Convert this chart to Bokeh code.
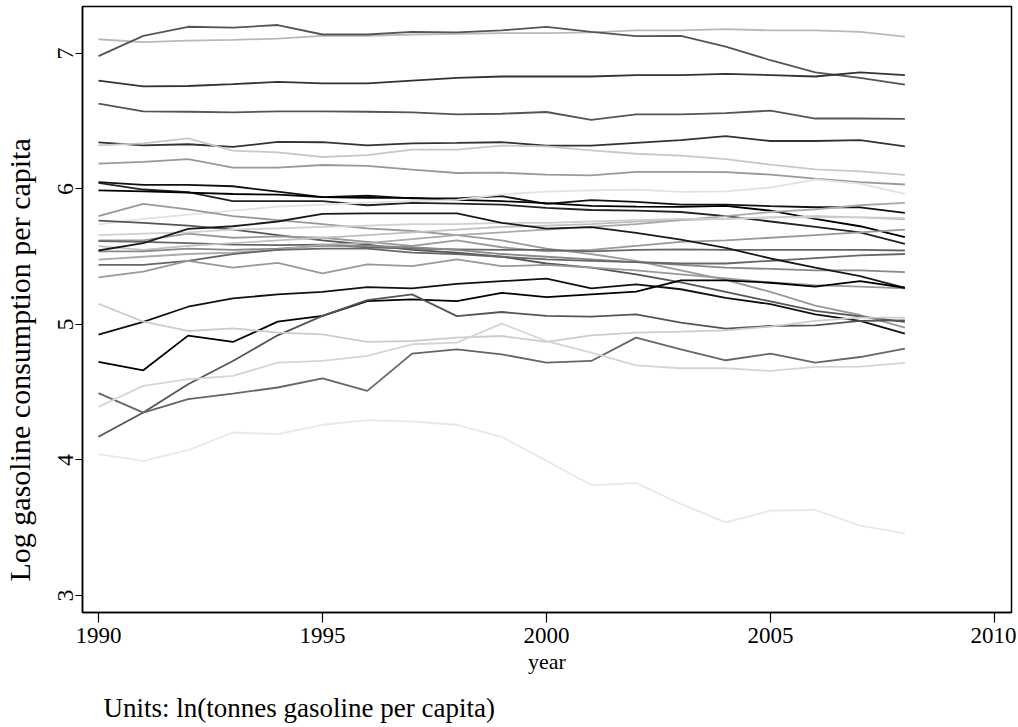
import math
from bokeh.plotting import figure
from bokeh.models import FixedTicker, Range1d
from bokeh.layouts import row, column
from bokeh.core.properties import value
from bokeh.embed import file_html
from bokeh.resources import INLINE

years = list(range(1990, 2009))

s01 = [7.105, 7.083, 7.095, 7.10, 7.11, 7.13, 7.13, 7.14, 7.145, 7.15, 7.15, 7.155, 7.17, 7.17, 7.18, 7.17, 7.17, 7.16, 7.125]
s02 = [6.98, 7.13, 7.197, 7.19, 7.21, 7.14, 7.14, 7.16, 7.155, 7.17, 7.197, 7.16, 7.128, 7.13, 7.05, 6.95, 6.86, 6.82, 6.77]
s03 = [6.80, 6.757, 6.76, 6.774, 6.79, 6.78, 6.78, 6.80, 6.82, 6.83, 6.83, 6.83, 6.84, 6.84, 6.85, 6.84, 6.83, 6.86, 6.84]
s04 = [6.63, 6.573, 6.57, 6.566, 6.573, 6.573, 6.57, 6.566, 6.55, 6.555, 6.568, 6.51, 6.55, 6.55, 6.56, 6.578, 6.52, 6.52, 6.518]
s05 = [6.344, 6.322, 6.33, 6.31, 6.347, 6.345, 6.322, 6.337, 6.34, 6.345, 6.32, 6.32, 6.34, 6.36, 6.39, 6.354, 6.354, 6.36, 6.315]
s06 = [6.322, 6.337, 6.374, 6.283, 6.27, 6.236, 6.25, 6.29, 6.29, 6.32, 6.315, 6.285, 6.26, 6.246, 6.22, 6.18, 6.145, 6.13, 6.104]
s07 = [6.187, 6.20, 6.22, 6.158, 6.158, 6.177, 6.17, 6.143, 6.118, 6.12, 6.106, 6.10, 6.126, 6.126, 6.124, 6.106, 6.077, 6.05, 6.033]
s08 = [6.05, 6.03, 6.03, 6.02, 5.98, 5.94, 5.95, 5.93, 5.93, 5.947, 5.89, 5.917, 5.905, 5.885, 5.885, 5.873, 5.865, 5.865, 5.824]
s09 = [6.045, 5.996, 5.976, 5.91, 5.91, 5.91, 5.88, 5.897, 5.892, 5.885, 5.86, 5.845, 5.84, 5.83, 5.80, 5.76, 5.72, 5.68, 5.595]
s10 = [5.99, 5.983, 5.973, 5.963, 5.958, 5.94, 5.934, 5.934, 5.92, 5.91, 5.895, 5.875, 5.87, 5.868, 5.875, 5.84, 5.78, 5.725, 5.645]
s11 = [5.738, 5.78, 5.81, 5.84, 5.87, 5.885, 5.90, 5.91, 5.92, 5.96, 5.98, 5.99, 5.995, 5.978, 5.983, 6.01, 6.07, 6.04, 5.964]
s12 = [5.80, 5.89, 5.85, 5.80, 5.77, 5.74, 5.71, 5.69, 5.66, 5.62, 5.56, 5.52, 5.47, 5.40, 5.33, 5.24, 5.14, 5.07, 4.977]
s13 = [5.767, 5.75, 5.73, 5.70, 5.66, 5.62, 5.59, 5.55, 5.53, 5.50, 5.45, 5.42, 5.37, 5.31, 5.24, 5.17, 5.10, 5.06, 5.02]
s14 = [5.62, 5.62, 5.67, 5.64, 5.65, 5.64, 5.61, 5.58, 5.62, 5.57, 5.54, 5.55, 5.58, 5.61, 5.62, 5.64, 5.66, 5.68, 5.70]
s15 = [5.615, 5.61, 5.60, 5.59, 5.585, 5.59, 5.57, 5.56, 5.555, 5.55, 5.55, 5.54, 5.55, 5.555, 5.55, 5.55, 5.55, 5.55, 5.546]
s16 = [5.578, 5.55, 5.58, 5.60, 5.62, 5.64, 5.66, 5.68, 5.70, 5.72, 5.73, 5.74, 5.76, 5.77, 5.78, 5.79, 5.80, 5.79, 5.775]
s17 = [5.54, 5.54, 5.56, 5.55, 5.56, 5.58, 5.58, 5.57, 5.55, 5.52, 5.50, 5.48, 5.46, 5.44, 5.42, 5.41, 5.40, 5.40, 5.387]
s18 = [5.478, 5.50, 5.52, 5.53, 5.55, 5.59, 5.60, 5.63, 5.66, 5.68, 5.70, 5.72, 5.74, 5.77, 5.80, 5.83, 5.85, 5.88, 5.897]
s19 = [5.44, 5.44, 5.47, 5.52, 5.55, 5.56, 5.56, 5.53, 5.52, 5.50, 5.48, 5.47, 5.46, 5.45, 5.45, 5.47, 5.49, 5.51, 5.52]
s20 = [5.347, 5.39, 5.47, 5.42, 5.455, 5.377, 5.443, 5.43, 5.48, 5.43, 5.44, 5.42, 5.40, 5.37, 5.34, 5.31, 5.29, 5.28, 5.266]
s21 = [5.66, 5.67, 5.68, 5.70, 5.71, 5.72, 5.73, 5.74, 5.74, 5.75, 5.75, 5.76, 5.77, 5.78, 5.78, 5.79, 5.79, 5.79, 5.787]
s22 = [5.546, 5.60, 5.705, 5.725, 5.76, 5.816, 5.82, 5.82, 5.82, 5.75, 5.708, 5.718, 5.676, 5.627, 5.566, 5.487, 5.419, 5.357, 5.271]
s23 = [4.925, 5.02, 5.131, 5.193, 5.222, 5.24, 5.276, 5.266, 5.30, 5.32, 5.338, 5.266, 5.296, 5.26, 5.197, 5.15, 5.075, 5.026, 4.932]
s24 = [4.724, 4.662, 4.918, 4.871, 5.021, 5.063, 5.173, 5.185, 5.173, 5.234, 5.202, 5.222, 5.242, 5.325, 5.325, 5.308, 5.279, 5.32, 5.271]
s25 = [4.171, 4.35, 4.559, 4.731, 4.92, 5.063, 5.18, 5.222, 5.062, 5.092, 5.063, 5.058, 5.075, 5.013, 4.969, 4.989, 4.994, 5.026, 5.031]
s26 = [5.153, 5.021, 4.952, 4.972, 4.94, 4.927, 4.871, 4.878, 4.903, 4.915, 4.871, 4.92, 4.94, 4.947, 4.957, 4.984, 5.026, 5.05, 5.05]
s27 = [4.493, 4.35, 4.449, 4.49, 4.535, 4.603, 4.51, 4.785, 4.817, 4.78, 4.719, 4.731, 4.903, 4.817, 4.736, 4.785, 4.719, 4.76, 4.822]
s28 = [4.392, 4.547, 4.596, 4.621, 4.719, 4.731, 4.768, 4.854, 4.866, 5.006, 4.878, 4.792, 4.699, 4.677, 4.677, 4.657, 4.687, 4.689, 4.716]
s29 = [4.043, 3.994, 4.073, 4.203, 4.191, 4.26, 4.294, 4.284, 4.26, 4.171, 3.995, 3.815, 3.83, 3.675, 3.54, 3.626, 3.631, 3.515, 3.459]

series = [s01, s02, s03, s04, s05, s06, s07, s08, s09, s10, s11, s12, s13, s14, s15,
          s16, s17, s18, s19, s20, s21, s22, s23, s24, s25, s26, s27, s28, s29]

shades = ["#b8b8b8", "#555555", "#333333", "#555555", "#333333", "#c8c8c8", "#999999",
          "#111111", "#222222", "#000000", "#e2e2e2", "#999999", "#555555", "#999999",
          "#666666", "#c0c0c0", "#888888", "#aaaaaa", "#666666", "#999999", "#d0d0d0",
          "#1a1a1a", "#111111", "#000000", "#555555", "#cccccc", "#666666", "#d5d5d5",
          "#e8e8e8"]

x_ticks = [1990, 1995, 2000, 2005, 2010]
y_ticks = [3, 4, 5, 6, 7]
y_title = "Log gasoline consumption per capita"
x_title = "year"
note_text = "Units: ln(tonnes gasoline per capita)"

FONT = "Liberation Serif"

# layout sizes (pixels)
TITLE_W = 40
MAIN_W, MAIN_H = 976, 686
NOTE_H = 41

p = figure(width=MAIN_W, height=MAIN_H, output_backend="svg", toolbar_location=None,
           x_range=Range1d(1989.643, 2010.38), y_range=Range1d(2.8746, 7.3466),
           min_border_left=42, min_border_right=5, min_border_top=6, min_border_bottom=74)

for vals, col in zip(series, shades):
    p.line(years, vals, line_color=col, line_width=1.8)

p.grid.visible = False
p.background_fill_color = "white"
p.border_fill_color = "white"
p.outline_line_color = "black"
p.outline_line_width = 1.5

p.xaxis.ticker = FixedTicker(ticks=x_ticks)
p.yaxis.ticker = FixedTicker(ticks=y_ticks)
for ax in (p.xaxis[0], p.yaxis[0]):
    ax.minor_tick_line_color = None
    ax.major_tick_in = 0
    ax.major_tick_out = 10
    ax.major_tick_line_color = "black"
    ax.major_tick_line_width = 1.2
    ax.axis_line_color = "black"
    ax.axis_line_width = 1.5
    ax.major_label_text_font = FONT
    ax.major_label_text_font_size = "23px"
    ax.major_label_text_color = "black"
    ax.axis_label_text_font = FONT
    ax.axis_label_text_font_size = "22px"
    ax.axis_label_text_font_style = "normal"
    ax.axis_label_text_color = "black"

p.xaxis.axis_label = x_title
p.xaxis.major_label_standoff = 5
p.xaxis.axis_label_standoff = 3
p.yaxis.major_label_orientation = "vertical"
p.yaxis.major_label_text_font_size = "24px"
p.yaxis.major_label_standoff = 2
p.yaxis.major_tick_out = 7


def text_strip(w, h):
    f = figure(width=w, height=h, output_backend="svg", toolbar_location=None,
               x_range=Range1d(0, w), y_range=Range1d(0, h),
               x_axis_location=None, y_axis_location=None, min_border=0)
    f.xgrid.visible = False
    f.ygrid.visible = False
    f.outline_line_color = None
    f.background_fill_color = "white"
    f.border_fill_color = "white"
    return f


# strip at the left holding the vertical axis title
ytf = text_strip(TITLE_W, MAIN_H)
ytf.text(x=[19], y=[286], text=[y_title], angle=math.pi / 2,
         text_align="center", text_baseline="middle",
         text_font=value(FONT), text_font_size=value("30px"), text_color="black")

# strip at the bottom holding the note
nf = text_strip(TITLE_W + MAIN_W, NOTE_H)
nf.text(x=[103], y=[NOTE_H - (707 - MAIN_H)], text=[note_text],
        text_align="left", text_baseline="middle",
        text_font=value(FONT), text_font_size=value("27px"), text_color="black")

layout = column(row(ytf, p), nf)

open("out.html", "w").write(file_html(layout, INLINE))
